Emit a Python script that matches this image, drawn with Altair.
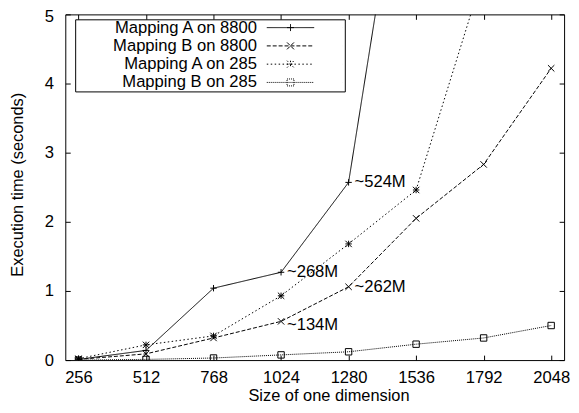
import altair as alt
import pandas as pd

# ---------------- data ----------------
sizes = [256, 512, 768, 1024, 1280, 1536, 1792, 2048]
series_names = ["Mapping A on 8800", "Mapping B on 8800", "Mapping A on 285", "Mapping B on 285"]
a_8800 = [0.01, 0.14, 1.04, 1.27, 2.57, 8.7, None, None]
b_8800 = [0.01, 0.09, 0.32, 0.56, 1.06, 2.05, 2.83, 4.22]
a_285 = [0.02, 0.22, 0.35, 0.93, 1.68, 2.46, 5.6, None]
b_285 = [0.0, 0.01, 0.03, 0.075, 0.12, 0.23, 0.32, 0.50]

note_sizes = [1280, 1024, 1280, 1024]
note_times = [2.57, 1.27, 1.06, 0.56]
note_texts = ["~524M", "~268M", "~262M", "~134M"]

y_ticks = [0, 1, 2, 3, 4, 5]

# ---------------- tables ----------------
rows = []
for name, vals in zip(series_names, [a_8800, b_8800, a_285, b_285]):
    for s, v in zip(sizes, vals):
        if v is not None:
            rows.append({"size": s, "time": v, "series": name})
df = pd.DataFrame(rows)
notes = pd.DataFrame({"size": note_sizes, "time": note_times, "label": note_texts})

# ---------------- styles ----------------
FONT = "Liberation Sans"
FS = 16.8
TFS = 16.6
W, H = 505, 350
dashes = [[1, 0], [4, 2], [1.5, 2.5], [1, 1]]

marker_segs = {
    "plus": lambda c: f"M{c-1:.2f},0H{c+1:.2f}M{c:.2f},-1V1",
    "cross": lambda c: f"M{c-1:.2f},-1L{c+1:.2f},1M{c-1:.2f},1L{c+1:.2f},-1",
    "star": lambda c: f"M{c-1:.2f},0H{c+1:.2f}M{c:.2f},-1V1M{c-1:.2f},-1L{c+1:.2f},1M{c-1:.2f},1L{c+1:.2f},-1",
    "square": lambda c: f"M{c-1:.2f},-1H{c+1:.2f}V1H{c-1:.2f}Z",
}
marker_kinds = ["plus", "cross", "star", "square"]
marker_paths = [marker_segs[k](0) for k in marker_kinds]

# legend symbol = line segment + marker, laid out to the right of the labels
L0, L1, LM, LEXT = 53.03, 66.74, 59.89, 75.0
legend_paths = [
    f"M{L0:.2f},0H{L1:.2f}" + marker_segs[k](LM) + f"M{LEXT:.2f},0L{LEXT - 0.01:.2f},0"
    for k in marker_kinds
]

xscale = alt.Scale(domain=[206, 2097], nice=False, zero=False)
yscale = alt.Scale(domain=[0, 5], nice=False, zero=False)
dash_scale = alt.Scale(domain=series_names, range=dashes)


def tick_axis(orient, offset, values):
    return alt.Axis(orient=orient, offset=offset, values=values, labels=False, domain=False,
                    ticks=True, tickSize=5, tickColor="black", tickWidth=1, grid=False, title=None)


base = alt.Chart(df)

lines = base.mark_line(clip=True, strokeWidth=1, color="black").encode(
    x=alt.X("size:Q", scale=xscale,
            axis=alt.Axis(orient="bottom", values=sizes, format="d", domain=False, ticks=False, grid=False,
                          labelPadding=10, labelFontSize=FS, labelFont=FONT, labelColor="black",
                          title="Size of one dimension", titleFont=FONT, titleFontSize=TFS,
                          titleFontWeight="normal", titleColor="black",
                          titleX=266.5, titleY=41, titleAlign="center", titleBaseline="alphabetic")),
    y=alt.Y("time:Q", scale=yscale,
            axis=alt.Axis(orient="left", values=y_ticks, format="d", domain=False, ticks=False, grid=False,
                          labelPadding=12, labelFontSize=FS, labelFont=FONT, labelColor="black",
                          labelOffset={"condition": {"test": "datum.value == 5", "value": 2.5}, "value": 0},
                          title="Execution time (seconds)", titleFont=FONT, titleFontSize=TFS,
                          titleFontWeight="normal", titleColor="black", titleAngle=270,
                          titleX=-48.5, titleY=172, titleAlign="center", titleBaseline="middle")),
    strokeDash=alt.StrokeDash("series:N", scale=dash_scale, legend=None),
    detail="series:N",
)

points = base.mark_point(clip=True, filled=False, strokeWidth=1, color="black", size=42, opacity=1).encode(
    x=alt.X("size:Q", scale=xscale, axis=tick_axis("top", -H, sizes)),
    y=alt.Y("time:Q", scale=yscale, axis=tick_axis("right", -W, y_ticks)),
    shape=alt.Shape("series:N", scale=alt.Scale(domain=series_names, range=marker_paths), legend=None),
)

note_base = alt.Chart(notes)
notes_main = note_base.transform_filter(alt.datum.label != "~134M").mark_text(
    align="left", baseline="middle", dx=6, font=FONT, fontSize=FS, color="black").encode(
    x=alt.X("size:Q", scale=xscale, axis=tick_axis("bottom", -H, sizes)),
    y=alt.Y("time:Q", scale=yscale, axis=tick_axis("left", -W, y_ticks)),
    text="label:N",
)
notes_low = note_base.transform_filter(alt.datum.label == "~134M").mark_text(
    align="left", baseline="middle", dx=6, dy=4, font=FONT, fontSize=FS, color="black").encode(
    x=alt.X("size:Q", scale=xscale, axis=None),
    y=alt.Y("time:Q", scale=yscale, axis=None),
    text="label:N",
)

legend_layer = base.transform_filter("false").mark_point(filled=False, strokeWidth=1, color="black").encode(
    x=alt.X("size:Q", scale=xscale, axis=None),
    y=alt.Y("time:Q", scale=yscale, axis=None),
    shape=alt.Shape("series:N", scale=alt.Scale(domain=series_names, range=legend_paths),
                    legend=alt.Legend(title=None)),
    strokeDash=alt.StrokeDash("series:N", scale=dash_scale, legend=alt.Legend(title=None)),
)

chart = alt.layer(lines, points, notes_main, notes_low, legend_layer).resolve_scale(
    shape="independent", strokeDash="independent"
).resolve_axis(x="independent", y="independent").properties(
    width=W, height=H,
    autosize=alt.AutoSizeParams(type="none"),
    padding={"left": 58, "top": 4, "right": 7, "bottom": 42},
).configure_view(stroke="black", strokeWidth=1).configure_legend(
    orient="none", legendX=10, legendY=5, direction="vertical",
    fillColor="white", strokeColor="black", padding=0, cornerRadius=0,
    labelFont=FONT, labelFontSize=FS, labelColor="black", labelAlign="right",
    labelOffset=167.2, labelLimit=400, symbolSize=49, symbolStrokeWidth=1,
    symbolStrokeColor="black", symbolFillColor="transparent", symbolOpacity=1, rowPadding=0.5,
)

chart.save("out.html", embed_options={"renderer": "svg", "actions": False})
